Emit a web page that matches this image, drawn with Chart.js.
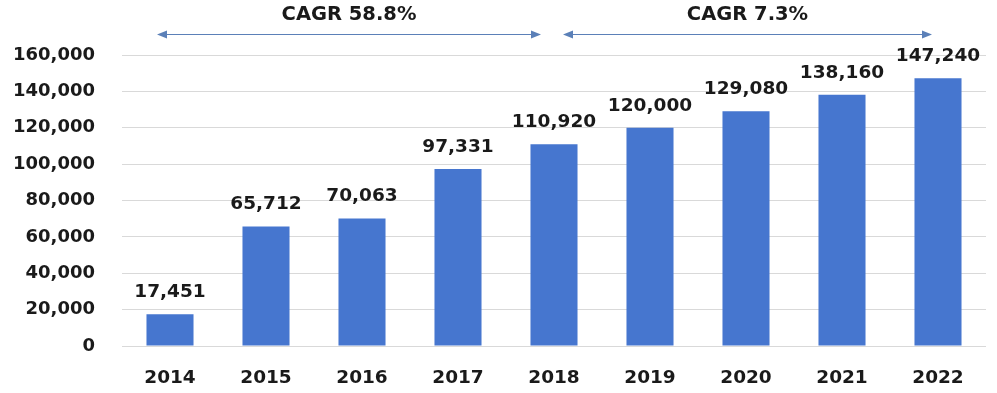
<!DOCTYPE html>
<html>
<head>
<meta charset="utf-8">
<script src="https://cdn.jsdelivr.net/npm/chart.js@4.4.0/dist/chart.umd.min.js"></script>
<style>
html,body{margin:0;padding:0;background:#fff;}
#wrap{width:997px;height:393px;position:relative;}
</style>
</head>
<body>
<div id="wrap"><canvas id="c" width="997" height="393"></canvas></div>
<script>
const years = ['2014','2015','2016','2017','2018','2019','2020','2021','2022'];
const values = [17451, 65712, 70063, 97331, 110920, 120000, 129080, 138160, 147240];
const yTicks = [0, 20000, 40000, 60000, 80000, 100000, 120000, 140000, 160000];
const cagrLabels = ['CAGR 58.8%', 'CAGR 7.3%'];
const cagrFrom = [0, 4];
const cagrTo = [4, 8];

const FONT = "'DejaVu Sans', sans-serif";
const TXT = '#1a1a1a';

const fmt = v => v.toLocaleString('en-US');

const labelPlugin = {
  id: 'barLabels',
  afterDatasetsDraw(chart) {
    const ctx = chart.ctx;
    const meta = chart.getDatasetMeta(0);
    ctx.save();
    ctx.font = "bold 18.5px " + FONT;
    ctx.fillStyle = TXT;
    ctx.textAlign = 'center';
    ctx.textBaseline = 'middle';
    meta.data.forEach((bar, i) => {
      ctx.fillText(fmt(values[i]), bar.x, bar.y - 22);
    });
    ctx.restore();
  }
};

const cagrPlugin = {
  id: 'cagr',
  afterDraw(chart) {
    const ctx = chart.ctx;
    const xs = chart.scales.x;
    const yLine = 34;
    ctx.save();
    for (let k = 0; k < cagrLabels.length; k++) {
      const x1 = xs.getPixelForValue(cagrFrom[k]) + (k === 0 ? -13 : 9);
      const x2 = xs.getPixelForValue(cagrTo[k]) + (k === 0 ? -13 : -6);
      ctx.strokeStyle = '#5b80b8';
      ctx.fillStyle = '#5b80b8';
      ctx.lineWidth = 1;
      ctx.beginPath();
      ctx.moveTo(x1 + 4, yLine + 0.5);
      ctx.lineTo(x2 - 4, yLine + 0.5);
      ctx.stroke();
      ctx.beginPath();
      ctx.moveTo(x1, yLine + 0.5);
      ctx.lineTo(x1 + 10, yLine - 3.5);
      ctx.lineTo(x1 + 10, yLine + 4.5);
      ctx.closePath();
      ctx.fill();
      ctx.beginPath();
      ctx.moveTo(x2, yLine + 0.5);
      ctx.lineTo(x2 - 10, yLine - 3.5);
      ctx.lineTo(x2 - 10, yLine + 4.5);
      ctx.closePath();
      ctx.fill();
      ctx.font = "bold 19.5px " + FONT;
      ctx.fillStyle = TXT;
      ctx.textAlign = 'center';
      ctx.textBaseline = 'middle';
      ctx.fillText(cagrLabels[k], (x1 + x2) / 2, 15);
    }
    ctx.restore();
  }
};

new Chart(document.getElementById('c'), {
  type: 'bar',
  data: {
    labels: years,
    datasets: [{
      data: values,
      backgroundColor: '#4676CF',
      borderWidth: 0,
      barPercentage: 0.49,
      categoryPercentage: 1.0
    }]
  },
  options: {
    responsive: false,
    animation: false,
    devicePixelRatio: 1,
    layout: { padding: { top: 55, right: 11, bottom: 0, left: 0 } },
    plugins: { legend: { display: false }, tooltip: { enabled: false } },
    scales: {
      x: {
        grid: { display: false, drawTicks: false },
        border: { display: false },
        ticks: { color: TXT, font: { family: FONT, size: 18.5, weight: 'bold' }, padding: 21 },
        afterFit(s) { s.height = 47; }
      },
      y: {
        min: 0,
        max: 160000,
        afterBuildTicks(s) { s.ticks = yTicks.map(v => ({ value: v })); },
        grid: { color: '#d9d9d9', lineWidth: 1, drawTicks: false },
        border: { display: false },
        ticks: { color: TXT, font: { family: FONT, size: 18, weight: 'bold' }, padding: 27, callback: v => fmt(v) },
        afterFit(s) { s.width = 122; }
      }
    }
  },
  plugins: [labelPlugin, cagrPlugin]
});
</script>
</body>
</html>
